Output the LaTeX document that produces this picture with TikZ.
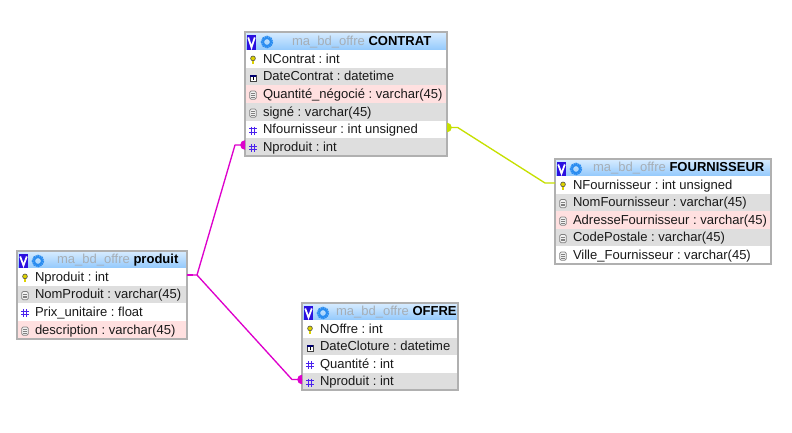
\documentclass[tikz,border=0pt]{standalone}
\usepackage{fontspec}
\setmainfont{Liberation Sans}
\frenchspacing
\definecolor{rowgray}{HTML}{DEDEDE}
\definecolor{rowpink}{HTML}{FFE0E0}
\definecolor{framegray}{HTML}{B0B0B0}
\definecolor{headtop}{HTML}{D8ECFF}
\definecolor{headbot}{HTML}{93C9FC}
\definecolor{schemagray}{HTML}{A6AEB6}
\definecolor{linkpink}{HTML}{DD00CC}
\definecolor{linklime}{HTML}{C6E000}
\definecolor{iconblue}{HTML}{2A8CF0}
\definecolor{hashblue}{HTML}{4A22EE}
\definecolor{vblue}{HTML}{2A10E0}
\tikzset{
  x=0.75pt,y=-0.75pt,
  rowbox/.style={draw=none,inner sep=0pt,outer sep=0pt,anchor=north west},
  rowtext/.style={inner sep=0pt,outer sep=0pt,anchor=base west,font=\fontsize{9.77pt}{11pt}\selectfont,text=black!90},
  headtext/.style={inner sep=0pt,outer sep=0pt,anchor=base west,font=\fontsize{9.77pt}{11pt}\selectfont},
  frame/.style={draw=framegray,line width=0.9pt,inner sep=0pt,outer sep=0pt,anchor=north west,fill=none},
  link/.style={line width=1pt,line join=round},
  stub/.style={line width=2.2pt},
}
% icons: drawn at the origin of a scope placed at the icon centre
\newcommand{\iconkey}{%
  \draw[black!70,fill=yellow!70!olive,line width=0.45pt] (0,-1.6) circle[radius=2.4];
  \draw[black!70,line width=2pt] (0,0.5) -- (0,4.2);
  \draw[yellow!70!olive,line width=0.9pt] (0,0.5) -- (0,4);
}
\newcommand{\icondate}{%
  \draw[black!75,fill=white,line width=0.5pt] (-3,-2.5) rectangle (3,3.5);
  \fill[blue!45!black] (-3,-3) rectangle (3,-1);
  \fill[black] (-0.5,-0.3) rectangle (0.5,2.6);
}
\newcommand{\icontext}{%
  \draw[black!50,fill=black!5,line width=0.55pt,rounded corners=1pt] (-3.2,-4) rectangle (3.2,4.2);
  \draw[black!50,line width=0.4pt] (-1.8,-1.6) -- (1.8,-1.6) (-1.8,0.3) -- (1.8,0.3) (-1.8,2.2) -- (1.8,2.2);
}
\newcommand{\iconnum}{%
  \draw[hashblue,line width=0.85pt] (-1.8,-4) -- (-1.8,4) (1.8,-4) -- (1.8,4) (-4,-1.7) -- (4,-1.7) (-4,1.9) -- (4,1.9);
}
% table parts: \tblx and \tblw hold the table's left edge and width
\newcommand{\trow}[6]{% name, top, bottom, fill, icon, text
  \pgfmathsetmacro{\rowh}{(#3-#2)*0.75}
  \pgfmathsetmacro{\rowyc}{(#2+#3)/2+1}
  \pgfmathsetmacro{\rowbase}{#3-5}
  \pgfmathsetmacro{\rowicon}{\tblx+8}
  \pgfmathsetmacro{\rowtx}{\tblx+18}
  \node[rowbox,fill=#4,minimum width={\tblw*0.75pt},minimum height={\rowh pt}] (#1) at (\tblx,#2) {};
  \begin{scope}[shift={(\rowicon,\rowyc)}]#5\end{scope}
  \node[rowtext] (#1-t) at (\rowtx,\rowbase) {#6};
}
\newcommand{\thead}[6]{% name, top, bottom, gear offset, title x, table name
  \pgfmathsetmacro{\rowh}{(#3-#2)*0.75}
  \pgfmathsetmacro{\vxa}{\tblx+2}
  \pgfmathsetmacro{\vxb}{\tblx+11}
  \pgfmathsetmacro{\vya}{#2+3}
  \pgfmathsetmacro{\vyb}{#3-0.5}
  \pgfmathsetmacro{\vxm}{\tblx+6.5}
  \pgfmathsetmacro{\gearx}{\tblx+#4}
  \pgfmathsetmacro{\geary}{#2+10}
  \pgfmathsetmacro{\vtop}{#2+5.5}
  \pgfmathsetmacro{\vbot}{#3-2.5}
  \pgfmathsetmacro{\vlx}{\vxm-3.3}
  \pgfmathsetmacro{\vrx}{\vxm+3.3}
  \pgfmathsetmacro{\hbase}{#3-4.4}
  \node[rowbox,top color=headtop,bottom color=headbot,minimum width={\tblw*0.75pt},minimum height={\rowh pt}] (#1) at (\tblx,#2) {};
  \fill[vblue] (\vxa,\vya) rectangle (\vxb,\vyb);
  \draw[white,line width=1.3pt,line join=miter] (\vlx,\vtop) -- (\vxm,\vbot) -- (\vrx,\vtop);
  \draw[iconblue,line width=1.6pt,dash pattern=on 1.2pt off 0.4pt] (\gearx,\geary) circle[radius=5.2];
  \draw[iconblue,line width=1.2pt] (\gearx,\geary) circle[radius=3.8];
  \node[headtext] (#1-t) at (#5,\hbase) {\textcolor{schemagray}{ma\_bd\_offre} \textbf{#6}};
}
\newcommand{\tframe}[3]{% name, top, bottom
  \pgfmathsetmacro{\rowh}{(#3-#2)*0.75}
  \node[frame,minimum width={\tblw*0.75pt},minimum height={\rowh pt}] (#1) at (\tblx,#2) {};
}
\begin{document}
\begin{tikzpicture}
\useasboundingbox[fill=white] (0,0) rectangle (792,432);

% CONTRAT
\def\tblx{245}\def\tblw{202}
\thead{ch}{32}{50}{22}{292}{CONTRAT}
\trow{cnc}{50}{68}{white}{\iconkey}{NContrat : int}
\trow{cdc}{68}{85}{rowgray}{\icondate}{DateContrat : datetime}
\trow{cqn}{85}{103}{rowpink}{\icontext}{Quantité\_négocié : varchar(45)}
\trow{csg}{103}{121}{rowgray}{\icontext}{signé : varchar(45)}
\trow{cnf}{121}{138}{white}{\iconnum}{Nfournisseur : int unsigned}
\trow{cnp}{138}{156}{rowgray}{\iconnum}{Nproduit : int}
\tframe{cf}{32}{156}

% produit
\def\tblx{17}\def\tblw{170}
\thead{ph}{251}{268}{21}{57}{produit}
\trow{pid}{268}{286}{white}{\iconkey}{Nproduit : int}
\trow{pnm}{286}{303}{rowgray}{\icontext}{NomProduit : varchar(45)}
\trow{ppx}{303}{321}{white}{\iconnum}{Prix\_unitaire : float}
\trow{pds}{321}{339}{rowpink}{\icontext}{description : varchar(45)}
\tframe{pf}{251}{339}

% OFFRE
\def\tblx{302}\def\tblw{156}
\thead{oh}{303}{320}{21}{336}{OFFRE}
\trow{ono}{320}{338}{white}{\iconkey}{NOffre : int}
\trow{odc}{338}{355}{rowgray}{\icondate}{DateCloture : datetime}
\trow{oqt}{355}{373}{white}{\iconnum}{Quantité : int}
\trow{onp}{373}{390}{rowgray}{\iconnum}{Nproduit : int}
\tframe{of}{303}{390}

% FOURNISSEUR
\def\tblx{555}\def\tblw{216}
\thead{fh}{159}{176}{21}{593}{FOURNISSEUR}
\trow{fnf}{176}{194}{white}{\iconkey}{NFournisseur : int unsigned}
\trow{fnm}{194}{211}{rowgray}{\icontext}{NomFournisseur : varchar(45)}
\trow{fad}{211}{229}{rowpink}{\icontext}{AdresseFournisseur : varchar(45)}
\trow{fcp}{229}{246}{rowgray}{\icontext}{CodePostale : varchar(45)}
\trow{fvl}{246}{264}{white}{\icontext}{Ville\_Fournisseur : varchar(45)}
\tframe{ff}{159}{264}

% connectors
\draw[link,linkpink] ([yshift=1.5pt]pid.east) -- ([xshift=7.5pt,yshift=1.5pt]pid.east) -- ([xshift=-7.5pt,yshift=1.5pt]cnp.west) -- ([yshift=1.5pt]cnp.west);
\draw[link,linkpink] ([xshift=7.5pt,yshift=1.5pt]pid.east) -- ([xshift=-7.5pt,yshift=1.5pt]onp.west) -- ([yshift=1.5pt]onp.west);
\draw[stub,linkpink] ([yshift=1.5pt]pid.east) -- ([xshift=4.5pt,yshift=1.5pt]pid.east);
\fill[linkpink] ([yshift=5.1pt]cnp.west) arc[start angle=90,end angle=270,radius=3.6pt] -- cycle;
\fill[linkpink] ([yshift=5.1pt]onp.west) arc[start angle=90,end angle=270,radius=3.6pt] -- cycle;
\draw[link,linklime] ([yshift=1.5pt]cnf.east) -- ([xshift=8pt,yshift=1.5pt]cnf.east) -- ([xshift=-7.5pt,yshift=1.5pt]fnf.west) -- ([yshift=1.5pt]fnf.west);
\fill[linklime] ([yshift=5.1pt]cnf.east) arc[start angle=90,end angle=-90,radius=3.6pt] -- cycle;
\end{tikzpicture}
\end{document}
